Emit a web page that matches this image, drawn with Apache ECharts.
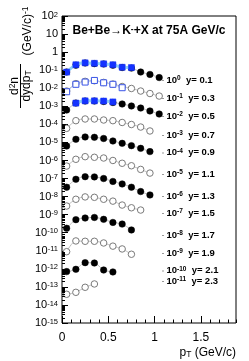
<!DOCTYPE html>
<html>
<head>
<meta charset="utf-8">
<script src="https://cdn.jsdelivr.net/npm/echarts@6/dist/echarts.min.js"></script>
<style>
html,body{margin:0;padding:0;background:#fff;}
#c{width:249px;height:361px;}
</style>
</head>
<body>
<div id="c"></div>
<script>
// ---- data (values as plotted, already scaled by 10^-k) ----
const pT = [0.05, 0.15, 0.25, 0.35, 0.45, 0.55, 0.65, 0.75, 0.85, 0.95, 1.05];
const y01 = [0.079, 0.19, 0.25, 0.23, 0.22, 0.19, 0.14, 0.13, 0.079, 0.058, 0.039];
const y03 = [0.0070, 0.018, 0.024, 0.026, 0.021, 0.017, 0.0125, 0.0097, 0.0070, 0.0051, 0.0037];
const y05 = [6.2e-4, 1.5e-3, 1.96e-3, 1.96e-3, 1.85e-3, 1.62e-3, 1.34e-3, 1.04e-3, 8.0e-4, 5.5e-4, 3.75e-4];
const y07 = [6.0e-5, 1.6e-4, 1.98e-4, 1.98e-4, 1.74e-4, 1.6e-4, 1.27e-4, 9.8e-5, 7.1e-5, 4.3e-5];
const y09 = [6.3e-6, 1.49e-5, 2.0e-5, 1.92e-5, 1.65e-5, 1.2e-5, 8.9e-6, 6.6e-6, 4.7e-6, 3.1e-6];
const y11 = [4.9e-7, 1.16e-6, 1.62e-6, 1.5e-6, 1.37e-6, 1.0e-6, 7.0e-7, 5.1e-7, 3.2e-7, 2.0e-7];
const y13 = [3.3e-8, 9.1e-8, 1.26e-7, 1.23e-7, 1.0e-7, 6.9e-8, 5.0e-8, 3.3e-8, 1.9e-8, 1.23e-8];
const y15 = [3.0e-9, 7.1e-9, 9.6e-9, 9.1e-9, 7.1e-9, 5.6e-9, 3.4e-9, 2.4e-9, 1.8e-9];
const y17 = [1.76e-10, 5.3e-10, 6.5e-10, 7.0e-10, 5.5e-10, 3.7e-10, 3.0e-10, 1.42e-10];
const y19 = [8.9e-12, 3.5e-11, 3.35e-11, 3.35e-11, 2.7e-11, 1.8e-11, 1.26e-11, 6.4e-12];
const y21 = [7.0e-13, 9.4e-13, 2.2e-12, 2.1e-12, 8.6e-13, 6.7e-13];
const y23 = [3.9e-14, 5.0e-14, 9.5e-14, 1.45e-13];
// second data set (blue squares)
const pTblue01 = [0.05, 0.15, 0.25, 0.35, 0.45, 0.55, 0.65, 0.75];
const blue01 = [0.078, 0.20, 0.255, 0.24, 0.225, 0.20, 0.145, 0.14];
const pTblue03 = [0.05, 0.15, 0.25, 0.35, 0.45, 0.55, 0.65];
const blue03 = [0.0064, 0.0165, 0.022, 0.027, 0.020, 0.0165, 0.0107];
const pTblue05 = [0.15, 0.25, 0.35, 0.45, 0.55];
const blue05 = [1.5e-3, 2.0e-3, 2.0e-3, 1.96e-3, 1.75e-3];
// labels
const rapidity = ['0.1','0.3','0.5','0.7','0.9','1.1','1.3','1.5','1.7','1.9','2.1','2.3'];
const scaleExp = ['0','-1','-2','-3','-4','-5','-6','-7','-8','-9','-10','-11'];
const xTicks = [0, 0.5, 1, 1.5];

// ---- layout / style ----
const FONT = 'Liberation Sans, Arial, Helvetica, sans-serif';
const rows = [y01,y03,y05,y07,y09,y11,y13,y15,y17,y19,y21,y23];
const legendY = [80, 98, 116, 135, 152.5, 174, 196, 213, 235, 253, 270.5, 281];
const GL = 62, GR = 13, GT = 16, GB = 38;

const series = [];
rows.forEach((vals, i) => {
  const filled = (i % 2 === 0);
  series.push({
    type: 'line',
    data: vals.map((v, j) => [pT[j], v]),
    smooth: 0.3,
    symbol: 'circle',
    symbolSize: 6.5,
    showSymbol: true,
    lineStyle: {color: '#bdbdbd', width: 1},
    itemStyle: filled ? {color: '#000', borderColor: '#000', borderWidth: 0.5}
                      : {color: '#fff', borderColor: '#7a7a7a', borderWidth: 1},
    z: 3
  });
});
function blueSeries(xs, vals, filled) {
  return {
    type: 'line',
    data: vals.map((v, j) => [xs[j], v]),
    smooth: 0.3,
    symbol: 'rect',
    symbolSize: 6,
    lineStyle: {color: filled ? '#8fd0f5' : '#b8c8f0', width: filled ? 3 : 1},
    itemStyle: filled ? {color: '#1432ff', borderColor: '#1432ff', borderWidth: 0.5}
                      : {color: '#fff', borderColor: '#3a55e8', borderWidth: 1},
    z: 4
  };
}
series.push(blueSeries(pTblue01, blue01, true));
series.push(blueSeries(pTblue03, blue03, false));
series.push(blueSeries(pTblue05, blue05, true));

// minor log ticks on y axis (decoration through the axis scale)
const minorVals = [];
for (let n = -15; n < 2; n++) for (let k = 2; k <= 9; k++) minorVals.push([0, k * Math.pow(10, n)]);
series.push({
  type: 'custom', silent: true, clip: false, z: 5,
  data: minorVals,
  renderItem: function (params, api) {
    const p = api.coord([0, api.value(1)]);
    const yy = Math.round(p[1]) + 0.5;
    return {type: 'line', shape: {x1: p[0], y1: yy, x2: p[0] + 3, y2: yy}, style: {stroke: '#000', lineWidth: 1}};
  }
});

const axRich = {
  b: {fontSize: 11, fontFamily: FONT, color: '#000', verticalAlign: 'bottom', lineHeight: 11, padding: [3,0,0,0]},
  s: {fontSize: 7.5, fontFamily: FONT, color: '#000', verticalAlign: 'top', lineHeight: 8}
};

const legendRich = {
  b: {fontSize: 9.5, fontWeight: 'bold', fontFamily: FONT, color: '#000', verticalAlign: 'bottom', lineHeight: 10, padding: [3,0,0,0]},
  s: {fontSize: 6.5, fontWeight: 'bold', fontFamily: FONT, color: '#000', verticalAlign: 'top', lineHeight: 7}
};
function supRich2() {
  return {a: {fontSize: 12, fontFamily: FONT, color: '#000', verticalAlign: 'bottom', lineHeight: 12, padding: [3,0,0,0]},
          s: {fontSize: 8.5, fontFamily: FONT, color: '#000', verticalAlign: 'top', lineHeight: 9}};
}

const graphics = [];
rapidity.forEach((r, i) => {
  graphics.push({type: 'line', shape: {x1: 162, y1: legendY[i] + 0.5, x2: 164, y2: legendY[i] + 0.5}, style: {stroke: '#999', lineWidth: 1}});
  graphics.push({type: 'text', x: 166.5, y: legendY[i], style: {
    text: '{b|10}{s|' + scaleExp[i] + '}{b|  y= ' + r + '}', rich: legendRich, align: 'left', verticalAlign: 'middle'}});
});
// title
graphics.push({type: 'text', x: 72.5, y: 31, style: {
  text: '{a|Be+Be\u2192K}{s|-}{a|+X at 75A GeV/c}', align: 'left', verticalAlign: 'middle',
  rich: {a: {fontSize: 12, fontWeight: 'bold', fontFamily: FONT, color: '#000', verticalAlign: 'bottom', lineHeight: 12, padding: [3,0,0,0]},
         s: {fontSize: 8.5, fontWeight: 'bold', fontFamily: FONT, color: '#000', verticalAlign: 'top', lineHeight: 9}}}});
// x title
graphics.push({type: 'text', x: 236, y: 353, style: {
  text: '{a|p}{t|T}{a| (GeV/c)}', align: 'right', verticalAlign: 'middle',
  rich: {a: {fontSize: 12, fontFamily: FONT, color: '#000', verticalAlign: 'top', lineHeight: 12, padding: [0,0,3,0]},
         t: {fontSize: 8.5, fontFamily: FONT, color: '#000', verticalAlign: 'bottom', lineHeight: 9}}}});
// y title (rotated)
graphics.push({type: 'group', x: 20, y: 86, rotation: Math.PI / 2, children: [
  {type: 'line', shape: {x1: -22, y1: 0.5, x2: 22, y2: 0.5}, style: {stroke: '#000', lineWidth: 1}},
  {type: 'text', x: 0, y: -5.5, style: {text: '{a|d}{s|2}{a|n}', align: 'center', verticalAlign: 'middle', rich: supRich2()}},
  {type: 'text', x: 0, y: 7, style: {text: '{a|dydp}{t|T}', align: 'center', verticalAlign: 'middle',
    rich: {a: {fontSize: 12, fontFamily: FONT, color: '#000', verticalAlign: 'top', lineHeight: 12, padding: [0,0,3,0]},
           t: {fontSize: 8.5, fontFamily: FONT, color: '#000', verticalAlign: 'bottom', lineHeight: 9}}}},
  {type: 'text', x: 55, y: 7.5, style: {text: '{a|(GeV/c)}{s|-1}', align: 'center', verticalAlign: 'middle', rich: supRich2()}}
]});

const chart = echarts.init(document.getElementById('c'), null, {renderer: 'canvas'});
chart.setOption({
  animation: false,
  backgroundColor: '#fff',
  grid: {left: GL, right: GR, top: GT, bottom: GB, show: true, borderColor: '#000', borderWidth: 1, backgroundColor: 'transparent'},
  xAxis: [
    {type: 'value', min: 0, max: 1.88, interval: 0.5, position: 'bottom',
     axisLine: {show: false}, splitLine: {show: false},
     axisTick: {inside: true, length: 7, lineStyle: {color: '#000'}},
     axisLabel: {showMaxLabel: false, margin: 9, fontSize: 12, fontFamily: FONT, color: '#000',
       formatter: v => (xTicks.indexOf(v) >= 0 ? String(v) : '')}},
    {type: 'value', min: 0, max: 1.88, interval: 0.1, position: 'bottom',
     axisLine: {show: false}, splitLine: {show: false}, axisLabel: {show: false},
     axisTick: {inside: true, length: 3.5, lineStyle: {color: '#000'}}}
  ],
  yAxis: {type: 'log', logBase: 10, min: 1e-15, max: 100, interval: 1,
    axisLine: {show: false}, splitLine: {show: false},
    axisTick: {inside: true, length: 6, lineStyle: {color: '#000'}},
    axisLabel: {margin: 4, rich: axRich,
      formatter: function (v) {
        const n = Math.round(Math.log10(v));
        if (n === 0) return '{b|1}';
        if (n === 1) return '{b|10}';
        return '{b|10}{s|' + String(n) + '}';
      }}},
  series: series,
  graphic: graphics
});
</script>
</body>
</html>
